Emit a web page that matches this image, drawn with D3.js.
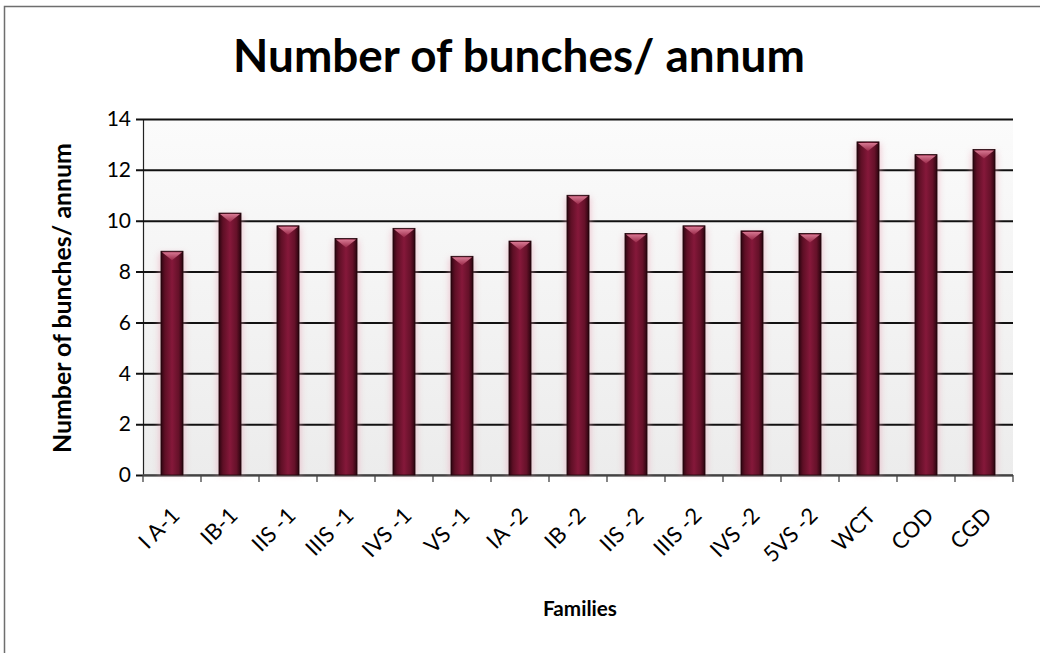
<!DOCTYPE html>
<html>
<head>
<meta charset="utf-8">
<script src="https://cdn.jsdelivr.net/npm/d3@7"></script>
<style>
  html, body { margin: 0; padding: 0; background: #ffffff; }
  svg { display: block; }
  text { font-family: Lato, "Open Sans", sans-serif; fill: #000; }
</style>
</head>
<body>
<svg id="chart" width="1040" height="653"></svg>
<script>
// Bunch production by family
const families = ["I A-1", "IB-1", "IIS -1", "IIIS -1", "IVS -1", "VS -1", "IA -2", "IB -2",
                  "IIS -2", "IIIS -2", "IVS -2", "5VS -2", "WCT", "COD", "CGD"];
const bunches = [8.8, 10.3, 9.8, 9.3, 9.7, 8.6, 9.2, 11.0, 9.5, 9.8, 9.6, 9.5, 13.1, 12.6, 12.8];
const yTicks = [0, 2, 4, 6, 8, 10, 12, 14];

const titleText = "Number of bunches/ annum";
const yTitleText = "Number of bunches/ annum";
const xTitleText = "Families";

const W = 1040, H = 653;
const margin = { left: 143, right: 27, top: 119, bottom: 178 };
const x0 = margin.left, x1 = W - margin.right;
const yTop = margin.top, yBot = H - margin.bottom;

const svg = d3.select("#chart");
const defs = svg.append("defs");

// plot-area wash
const bg = defs.append("linearGradient").attr("id", "plotBg")
  .attr("x1", 0).attr("y1", 0).attr("x2", 0).attr("y2", 1);
bg.append("stop").attr("offset", "0%").attr("stop-color", "#fbfbfb");
bg.append("stop").attr("offset", "100%").attr("stop-color", "#ececec");

// cylinder shading across each bar
const barGrad = defs.append("linearGradient").attr("id", "barGrad")
  .attr("x1", 0).attr("y1", 0).attr("x2", 1).attr("y2", 0);
[["0%", "#2c0510"], ["18%", "#5e0f25"], ["50%", "#85183a"], ["80%", "#651129"], ["100%", "#2a040e"]]
  .forEach(([o, c]) => barGrad.append("stop").attr("offset", o).attr("stop-color", c));

const capGrad = defs.append("linearGradient").attr("id", "capGrad")
  .attr("x1", 0).attr("y1", 0).attr("x2", 0).attr("y2", 1);
capGrad.append("stop").attr("offset", "0%").attr("stop-color", "#d77892");
capGrad.append("stop").attr("offset", "100%").attr("stop-color", "#9a2a4a");

const glow = defs.append("filter").attr("id", "glow")
  .attr("x", "-40%").attr("y", "-10%").attr("width", "180%").attr("height", "120%");
glow.append("feGaussianBlur").attr("stdDeviation", 3);

// frame: only the top and left edges fall inside the page
svg.append("path").attr("d", `M4.5,${H} L4.5,6.5 L${W},6.5`)
  .attr("fill", "none").attr("stroke", "#6e6e6e").attr("stroke-width", 1.5);

const x = d3.scaleBand().domain(families).range([x0, x1]).paddingInner(0.62).paddingOuter(0.31);
const xTick = d3.scaleBand().domain(families).range([x0, x1]);
const y = d3.scaleLinear().domain([0, 14]).range([yBot, yTop]);

svg.append("rect").attr("x", x0).attr("y", yTop).attr("width", x1 - x0).attr("height", yBot - yTop)
  .attr("fill", "url(#plotBg)");

// gridlines and y axis
const yAxis = d3.axisLeft(y).tickValues(yTicks).tickSize(-(x1 - x0)).tickSizeOuter(0).tickPadding(12);
const gy = svg.append("g").attr("transform", `translate(${x0},0)`).call(yAxis);
gy.select(".domain").attr("stroke", "#222").attr("stroke-width", 1.2);
gy.selectAll(".tick line").attr("stroke", "#111").attr("stroke-width", 2)
  .attr("x1", -7);
gy.selectAll(".tick text").attr("font-size", 21).attr("x", -12);

// x axis
const gx = svg.append("g").attr("transform", `translate(0,${yBot})`);
gx.append("line").attr("x1", x0).attr("x2", x1).attr("y1", 0).attr("y2", 0)
  .attr("stroke", "#555").attr("stroke-width", 1.5);
const bounds = families.map(f => xTick(f)).concat([x1]);
gx.selectAll("line.tk").data(bounds).join("line").attr("class", "tk")
  .attr("x1", d => d).attr("x2", d => d).attr("y1", 0).attr("y2", 7)
  .attr("stroke", "#444").attr("stroke-width", 1.3);

// bars
const bars = svg.append("g").selectAll("g.bar").data(families).join("g").attr("class", "bar");
bars.append("rect")
  .attr("x", d => x(d) - 2).attr("width", x.bandwidth() + 4)
  .attr("y", (d, i) => y(bunches[i]) + 2).attr("height", (d, i) => yBot - y(bunches[i]) - 2)
  .attr("fill", "#e8a0b4").attr("opacity", 0.5).attr("filter", "url(#glow)");
bars.append("rect")
  .attr("x", d => x(d)).attr("width", x.bandwidth())
  .attr("y", (d, i) => y(bunches[i])).attr("height", (d, i) => yBot - y(bunches[i]))
  .attr("fill", "url(#barGrad)").attr("stroke", "#1e0309").attr("stroke-width", 0.8);
bars.append("path")
  .attr("d", (d, i) => {
    const bx = x(d), bw = x.bandwidth(), by = y(bunches[i]);
    return `M${bx + 1},${by + 1} L${bx + bw - 1},${by + 1} L${bx + bw / 2},${by + 9} Z`;
  })
  .attr("fill", "url(#capGrad)");

// category labels
gx.selectAll("text.lab").data(families).join("text").attr("class", "lab")
  .attr("font-size", 22)
  .attr("text-anchor", "end")
  .attr("transform", d => `translate(${xTick(d) + xTick.bandwidth() / 2 + 9},${42}) rotate(-45)`)
  .text(d => d);

// title and axis titles, sized to their measured extents
function fitWidth(sel, target) {
  const base = +sel.attr("font-size");
  const len = sel.node().getComputedTextLength();
  sel.attr("font-size", base * target / len);
}
const title = svg.append("text").attr("x", 519).attr("y", 72).attr("text-anchor", "middle")
  .attr("font-weight", 700).attr("font-size", 36).text(titleText);
fitWidth(title, 572);

const yTitle = svg.append("text").attr("text-anchor", "middle").attr("font-weight", 700)
  .attr("font-size", 18).attr("transform", "translate(71,298) rotate(-90)").text(yTitleText);
fitWidth(yTitle, 310);

const xTitle = svg.append("text").attr("x", 580).attr("y", 616).attr("text-anchor", "middle")
  .attr("font-weight", 700).attr("font-size", 16).text(xTitleText);
fitWidth(xTitle, 74);
</script>
</body>
</html>
